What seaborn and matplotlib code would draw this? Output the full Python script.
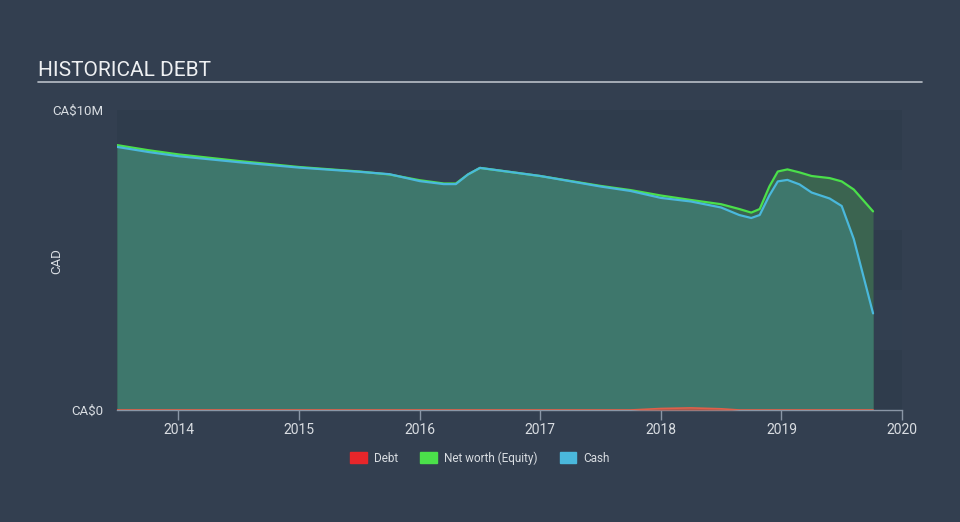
import numpy as np
import pandas as pd
import matplotlib
matplotlib.use("Agg")
import matplotlib.pyplot as plt
import seaborn as sns
from matplotlib.patches import Patch

# ---- data (CA$ millions) ----
years = [2013.49, 2013.75, 2014.0, 2014.5, 2015.0, 2015.5, 2015.75, 2016.0, 2016.2, 2016.3,
         2016.4, 2016.5, 2017.0, 2017.5, 2017.75, 2018.0, 2018.25, 2018.5, 2018.65, 2018.75,
         2018.82, 2018.9, 2018.97, 2019.05, 2019.15, 2019.25, 2019.4, 2019.5, 2019.6, 2019.76]
equity = [8.83, 8.66, 8.52, 8.30, 8.10, 7.95, 7.85, 7.66, 7.55, 7.55,
          7.85, 8.07, 7.80, 7.47, 7.33, 7.15, 7.00, 6.86, 6.70, 6.58,
          6.70, 7.45, 7.95, 8.02, 7.92, 7.80, 7.73, 7.62, 7.35, 6.62]
cash = [8.77, 8.60, 8.46, 8.26, 8.08, 7.94, 7.86, 7.63, 7.53, 7.53,
        7.85, 8.07, 7.80, 7.45, 7.30, 7.07, 6.95, 6.75, 6.50, 6.40,
        6.50, 7.15, 7.62, 7.67, 7.52, 7.25, 7.05, 6.80, 5.70, 3.22]
debt = [0, 0, 0, 0, 0, 0, 0, 0, 0, 0,
        0, 0, 0, 0, 0, 0.05, 0.07, 0.04, 0.0, 0,
        0, 0, 0, 0, 0, 0, 0, 0, 0, 0]
xticks = [2014, 2015, 2016, 2017, 2018, 2019, 2020]
ytick_vals = [0, 10]
ytick_labels = ["CA\\$0", "CA\\$10M"]

df = pd.DataFrame({"year": years, "Net worth (Equity)": equity, "Cash": cash, "Debt": debt})

BG = "#333f50"
PLOT_BG = "#2e3b4b"
C_DEBT = "#e8262a"
C_EQ = "#4be04a"
C_CASH = "#4ab8dc"
TXT = "#d9dde2"

sns.set_theme(style="dark")
plt.rcParams["font.family"] = ["Roboto", "DejaVu Sans"]

fig = plt.figure(figsize=(9.6, 5.22), dpi=100, facecolor=BG)
ax = fig.add_axes([117/960, 112/522, (902-117)/960, 300/522])
ax.set_facecolor(PLOT_BG)

# background bands
band_cols = ["#2f3c4c", "#323f50"]
for i, y0 in enumerate(range(0, 10, 2)):
    ax.axhspan(y0, y0 + 2, color=band_cols[i % 2], lw=0, zorder=0)

ax.fill_between(df["year"], 0, df["Net worth (Equity)"], color="#3b6450", lw=0, zorder=1)
ax.fill_between(df["year"], 0, df["Cash"], color="#3e776c", lw=0, zorder=2)
ax.fill_between(df["year"], 0, df["Debt"], color="#b0584a", lw=0, zorder=3)

sns.lineplot(data=df, x="year", y="Net worth (Equity)", color=C_EQ, lw=1.6, ax=ax, zorder=4)
sns.lineplot(data=df, x="year", y="Cash", color=C_CASH, lw=1.6, ax=ax, zorder=5)
sns.lineplot(data=df, x="year", y="Debt", color="#e0604a", lw=1.2, ax=ax, zorder=6)

ax.set_xlim(2013.49, 2020.0)
ax.set_ylim(0, 10)
ax.set_xticks(xticks)
ax.set_xticklabels([str(t) for t in xticks], color=TXT, fontsize=10)
ax.set_yticks(ytick_vals)
ax.set_yticklabels(ytick_labels, color=TXT, fontsize=9.5)
ax.tick_params(axis="x", length=7, width=1, color="#8a96a6", pad=2, direction="out", bottom=True)
ax.tick_params(axis="y", length=0, pad=10)
ax.set_xlabel("")
ax.set_ylabel("")
for s in ["top", "right", "left"]:
    ax.spines[s].set_visible(False)
ax.spines["bottom"].set_color("#8a96a6")
ax.spines["bottom"].set_linewidth(1)
ax.grid(False)

fig.text(57/960, 1 - 261/522, "CAD", color=TXT, fontsize=9.5, rotation=90, va="center", ha="center")

# title and rule
fig.text(38/960, 1 - 70/522, "HISTORICAL DEBT", color="#eef0f2", fontsize=15, va="center", ha="left")
fig.add_artist(plt.Line2D([38/960, 922/960], [1 - 82/522, 1 - 82/522], color="#b9bfc7", lw=1.2))

handles = [Patch(color=C_DEBT, label="Debt"), Patch(color=C_EQ, label="Net worth (Equity)"),
           Patch(color=C_CASH, label="Cash")]
leg = fig.legend(handles=handles, loc="center", bbox_to_anchor=(0.5, 1 - 458/522), ncol=3,
                 frameon=False, fontsize=8.5, handlelength=1.4, handleheight=1.0,
                 columnspacing=1.9, handletextpad=0.6)
for t in leg.get_texts():
    t.set_color(TXT)

fig.savefig("out.png", dpi=100, facecolor=BG)
